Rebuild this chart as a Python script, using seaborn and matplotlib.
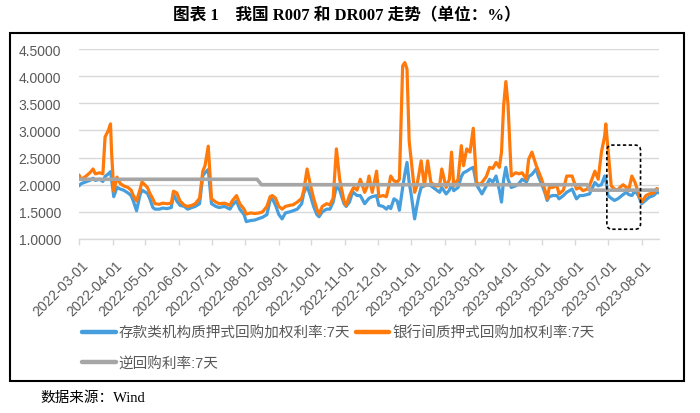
import numpy as np
import pandas as pd
import matplotlib
matplotlib.use("Agg")
import matplotlib.pyplot as plt
import seaborn as sns
import matplotlib.dates as mdates
from matplotlib.patches import Rectangle, FancyBboxPatch
from matplotlib.lines import Line2D
from matplotlib.transforms import ScaledTranslation

# ---------------- data ----------------
dates = [
    "2022-03-01", "2022-03-03", "2022-03-07", "2022-03-11", "2022-03-14", "2022-03-16", "2022-03-20", "2022-03-23", "2022-03-25", "2022-03-28",
    "2022-03-30", "2022-03-31", "2022-04-02", "2022-04-05", "2022-04-08", "2022-04-11", "2022-04-15", "2022-04-18", "2022-04-20", "2022-04-23",
    "2022-04-26", "2022-04-28", "2022-05-03", "2022-05-05", "2022-05-08", "2022-05-10", "2022-05-14", "2022-05-17", "2022-05-21", "2022-05-25",
    "2022-05-27", "2022-05-30", "2022-06-02", "2022-06-06", "2022-06-09", "2022-06-13", "2022-06-16", "2022-06-20", "2022-06-23", "2022-06-25",
    "2022-06-28", "2022-07-01", "2022-07-05", "2022-07-08", "2022-07-13", "2022-07-18", "2022-07-20", "2022-07-24", "2022-07-27", "2022-07-31",
    "2022-08-02", "2022-08-06", "2022-08-10", "2022-08-14", "2022-08-17", "2022-08-21", "2022-08-24", "2022-08-26", "2022-08-29", "2022-09-01",
    "2022-09-04", "2022-09-07", "2022-09-11", "2022-09-14", "2022-09-18", "2022-09-22", "2022-09-24", "2022-09-27", "2022-09-30", "2022-10-03",
    "2022-10-06", "2022-10-08", "2022-10-11", "2022-10-15", "2022-10-18", "2022-10-21", "2022-10-24", "2022-10-27", "2022-10-31", "2022-11-02",
    "2022-11-05", "2022-11-08", "2022-11-09", "2022-11-12", "2022-11-15", "2022-11-19", "2022-11-21", "2022-11-23", "2022-11-26", "2022-11-30",
    "2022-12-02", "2022-12-06", "2022-12-09", "2022-12-11", "2022-12-13", "2022-12-16", "2022-12-19", "2022-12-21", "2022-12-24", "2022-12-26",
    "2022-12-28", "2022-12-30", "2023-01-01", "2023-01-04", "2023-01-06", "2023-01-08", "2023-01-10", "2023-01-13", "2023-01-16", "2023-01-19",
    "2023-01-23", "2023-01-27", "2023-01-29", "2023-02-02", "2023-02-05", "2023-02-07", "2023-02-09", "2023-02-13", "2023-02-16", "2023-02-18",
    "2023-02-21", "2023-02-24", "2023-02-27", "2023-03-02", "2023-03-05", "2023-03-07", "2023-03-11", "2023-03-14", "2023-03-17", "2023-03-20",
    "2023-03-23", "2023-03-25", "2023-03-27", "2023-03-29", "2023-03-31", "2023-04-03", "2023-04-07", "2023-04-10", "2023-04-13", "2023-04-17",
    "2023-04-19", "2023-04-22", "2023-04-26", "2023-04-28", "2023-05-01", "2023-05-04", "2023-05-06", "2023-05-08", "2023-05-11", "2023-05-15",
    "2023-05-17", "2023-05-21", "2023-05-24", "2023-05-29", "2023-06-02", "2023-06-05", "2023-06-08", "2023-06-12", "2023-06-14", "2023-06-19",
    "2023-06-22", "2023-06-25", "2023-06-28", "2023-06-29", "2023-07-01", "2023-07-04", "2023-07-07", "2023-07-10", "2023-07-12", "2023-07-15",
    "2023-07-18", "2023-07-20", "2023-07-23", "2023-07-26", "2023-07-29", "2023-08-01", "2023-08-05", "2023-08-08", "2023-08-12", "2023-08-15",
    "2023-08-17",
]

# 银行间质押式回购加权利率:7天 (R007)
r007 = [
    2.18, 2.10, 2.15, 2.22, 2.29, 2.20, 2.22, 2.20, 2.88, 3.00,
    3.12, 2.60, 1.88, 2.14, 2.02, 1.98, 1.95, 1.90, 1.80, 1.70,
    1.90, 2.05, 1.95, 1.85, 1.74, 1.65, 1.64, 1.66, 1.65, 1.66,
    1.88, 1.85, 1.70, 1.62, 1.60, 1.62, 1.65, 1.75, 2.25, 2.35,
    2.71, 1.74, 1.68, 1.65, 1.66, 1.62, 1.70, 1.80, 1.65, 1.55,
    1.46, 1.48, 1.47, 1.48, 1.50, 1.60, 1.78, 1.80, 1.75, 1.60,
    1.55, 1.60, 1.62, 1.63, 1.68, 1.75, 1.90, 2.29, 2.00, 1.75,
    1.55, 1.46, 1.60, 1.65, 1.63, 1.75, 2.66, 2.10, 1.70, 1.62,
    1.80, 1.92, 1.95, 1.90, 2.10, 1.86, 1.95, 2.16, 1.86, 2.25,
    1.78, 1.80, 1.78, 1.95, 2.16, 2.07, 2.05, 2.10, 4.19, 4.25,
    4.13, 2.80, 2.43, 1.86, 1.98, 2.20, 2.44, 1.98, 2.44, 2.04,
    1.98, 1.98, 2.29, 1.95, 2.10, 2.60, 1.98, 2.10, 2.72, 2.35,
    2.66, 2.60, 3.04, 2.04, 2.00, 2.04, 2.15, 2.32, 2.30, 2.41,
    2.32, 2.60, 3.47, 3.90, 3.47, 2.16, 2.22, 2.20, 2.22, 2.10,
    2.47, 2.60, 2.35, 2.25, 2.10, 1.90, 1.74, 1.95, 1.95, 1.98,
    1.83, 1.90, 2.16, 2.16, 1.92, 1.95, 1.89, 1.92, 1.98, 2.25,
    2.10, 2.60, 2.90, 3.12, 2.66, 1.98, 1.92, 1.90, 1.95, 2.00,
    1.95, 1.89, 2.16, 2.04, 1.85, 1.68, 1.80, 1.83, 1.85, 1.93,
    1.90,
]

# 存款类机构质押式回购加权利率:7天 (DR007)
dr007 = [
    1.98, 2.02, 2.05, 2.08, 2.12, 2.08, 2.10, 2.06, 2.15, 2.20,
    2.24, 2.10, 1.78, 1.95, 1.92, 1.90, 1.85, 1.80, 1.70, 1.52,
    1.80, 1.90, 1.84, 1.75, 1.58, 1.55, 1.55, 1.57, 1.56, 1.58,
    1.83, 1.70, 1.62, 1.60, 1.55, 1.58, 1.60, 1.65, 2.17, 2.22,
    2.28, 1.65, 1.60, 1.58, 1.60, 1.55, 1.62, 1.70, 1.55, 1.45,
    1.32, 1.34, 1.35, 1.38, 1.40, 1.45, 1.72, 1.74, 1.62, 1.45,
    1.37, 1.48, 1.50, 1.52, 1.55, 1.65, 1.85, 1.98, 1.80, 1.60,
    1.45, 1.41, 1.50, 1.55, 1.55, 1.68, 1.98, 1.90, 1.65, 1.60,
    1.68, 1.87, 1.85, 1.80, 1.80, 1.65, 1.70, 1.75, 1.78, 1.80,
    1.62, 1.60, 1.55, 1.60, 1.56, 1.74, 1.70, 1.53, 1.95, 2.20,
    2.41, 2.04, 1.80, 1.37, 1.60, 1.80, 1.95, 1.98, 2.00, 1.98,
    1.92, 1.86, 1.95, 1.83, 1.90, 2.01, 1.89, 1.95, 2.15, 2.22,
    2.25, 2.29, 2.32, 2.00, 1.90, 1.83, 1.98, 2.10, 2.05, 2.16,
    1.90, 1.68, 2.10, 2.32, 2.10, 1.95, 1.98, 2.02, 2.10, 2.05,
    2.15, 2.19, 2.29, 2.15, 2.01, 1.85, 1.71, 1.78, 1.80, 1.80,
    1.74, 1.80, 1.86, 1.92, 1.74, 1.80, 1.80, 1.82, 1.83, 2.04,
    1.98, 2.00, 2.16, 2.10, 1.80, 1.75, 1.71, 1.74, 1.77, 1.82,
    1.86, 1.82, 1.80, 1.89, 1.80, 1.65, 1.72, 1.77, 1.80, 1.86,
    1.85,
]

# 逆回购利率:7天
rr_dates = ["2022-03-01", "2022-08-12", "2022-08-16", "2023-06-12", "2023-06-14", "2023-08-17"]
rr_rate = [2.10, 2.10, 2.00, 2.00, 1.90, 1.90]

labels = ["存款类机构质押式回购加权利率:7天", "银行间质押式回购加权利率:7天", "逆回购利率:7天"]
month_ticks = pd.date_range("2022-03-01", "2023-08-01", freq="MS")
y_ticks = [1.0, 1.5, 2.0, 2.5, 3.0, 3.5, 4.0, 4.5]

# highlighted window (dashed box)
box_start, box_end = "2023-06-30", "2023-07-31"
box_low, box_high = 1.18, 2.73

title = "图表 1　我国 R007 和 DR007 走势（单位：%）"
source = "数据来源：Wind"

assert len(dates) == len(r007) == len(dr007)

# ---------------- styling ----------------
sns.set_theme(style="white")
plt.rcParams['font.family'] = ['Liberation Sans', 'Noto Sans CJK SC', 'DejaVu Sans']

BLUE = "#469EDD"
ORANGE = "#FF7A0A"
GREY = "#A6A6A6"
TXT = "#595959"

df = pd.DataFrame({"date": pd.to_datetime(dates), "dr": dr007, "r": r007})
df_rr = pd.DataFrame({"date": pd.to_datetime(rr_dates), "rr": rr_rate})

W, H = 700, 414
fig = plt.figure(figsize=(W / 100, H / 100), dpi=100)
ax = fig.add_axes([79 / W, 1 - 240 / H, 580 / W, 190 / H])

sns.lineplot(data=df, x="date", y="dr", ax=ax, color=BLUE, lw=2.3, legend=False)
sns.lineplot(data=df, x="date", y="r", ax=ax, color=ORANGE, lw=2.3, legend=False)
sns.lineplot(data=df_rr, x="date", y="rr", ax=ax, color=GREY, lw=2.6, legend=False)

ax.set_xlim(pd.Timestamp(dates[0]), pd.Timestamp(dates[-1]))
ax.set_ylim(y_ticks[0], y_ticks[-1])
ax.set_yticks(y_ticks)
ax.set_yticklabels([f"{v:.4f}" for v in y_ticks], color=TXT, fontsize=10)
ax.set_xticks(month_ticks)
ax.set_xticklabels([d.strftime("%Y-%m-%d") for d in month_ticks], color=TXT, fontsize=10,
                   rotation=45, ha="right", va="center", rotation_mode="anchor")
ax.set_xlabel("")
ax.set_ylabel("")

ax.yaxis.grid(True, color="#D9D9D9", lw=1)
ax.set_axisbelow(True)
for s in ["top", "right", "left"]:
    ax.spines[s].set_visible(False)
ax.spines["bottom"].set_color("#D9D9D9")
ax.spines["bottom"].set_linewidth(1)
ax.tick_params(axis="y", length=0, pad=13)
ax.tick_params(axis="x", bottom=True, length=4, width=1, color="#D9D9D9", direction="out", pad=13)
off = ScaledTranslation(7 / 100, 0, fig.dpi_scale_trans)
for lab in ax.get_xticklabels():
    lab.set_transform(lab.get_transform() + off)

# dashed rounded box
x0 = mdates.date2num(pd.Timestamp(box_start))
x1 = mdates.date2num(pd.Timestamp(box_end))
box = FancyBboxPatch((x0, box_low), x1 - x0, box_high - box_low,
                     boxstyle="round,pad=0,rounding_size=5", mutation_aspect=0.02,
                     transform=ax.transData, fill=False, edgecolor="black",
                     lw=1.2, linestyle=(0, (2, 1.5)), zorder=5, clip_on=False)
ax.add_patch(box)

# legend
h_blue = Line2D([], [], color=BLUE, lw=3.2)
h_orange = Line2D([], [], color=ORANGE, lw=3.2)
h_grey = Line2D([], [], color=GREY, lw=3.2)
fig.legend(handles=[h_blue, h_grey, h_orange], labels=[labels[0], labels[2], labels[1]],
           ncol=2, loc="upper left", bbox_to_anchor=(82 / W, 1 - 327 / H),
           frameon=False, prop={"family": ['Liberation Sans', 'Noto Sans CJK SC'], "size": 10.5},
           labelcolor=TXT, handlelength=2.3, handletextpad=0.2, columnspacing=0.4,
           labelspacing=1.1, borderpad=0, borderaxespad=0)

# outer frame
fig.patches.append(Rectangle((10 / W, 1 - 382 / H), 674 / W, 348 / H, transform=fig.transFigure,
                             fill=False, edgecolor="black", lw=1.5))

fig.text(347 / W, 1 - 16 / H, title, ha="center", va="center", fontsize=12, fontweight="bold",
         family=['Liberation Serif', 'Noto Sans CJK SC'], color="black")
fig.text(40 / W, 1 - 398 / H, source, ha="left", va="center", fontsize=10.5,
         family=['Liberation Serif', 'Noto Sans CJK SC'], color="black")

fig.savefig("out.png", dpi=100)
